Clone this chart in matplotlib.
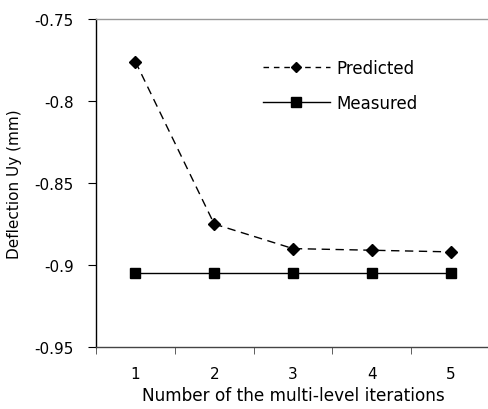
import numpy as np
import matplotlib
matplotlib.use("Agg")
import matplotlib.pyplot as plt
from matplotlib.lines import Line2D

iterations = [1, 2, 3, 4, 5]
predicted = [-0.776, -0.875, -0.890, -0.891, -0.892]
measured = [-0.905, -0.905, -0.905, -0.905, -0.905]
yticks = [-0.95, -0.9, -0.85, -0.8, -0.75]
ytick_labels = ["-0.95", "-0.9", "-0.85", "-0.8", "-0.75"]

fig = plt.figure(figsize=(4.88, 4.10), dpi=100)
ax = fig.add_axes([96/488, 1-348/410, 394/488, 328/410])

ax.plot(iterations, predicted, linestyle=(0, (6, 4)), lw=1.0, marker='D',
        color='black', markersize=6)
ax.plot(iterations, measured, linestyle='-', lw=1.0, marker='s', color='black', markersize=7)

ax.set_xlim(0.5, 5.5)
ax.set_ylim(-0.95, -0.75)
ax.set_yticks(yticks)
ax.set_yticklabels(ytick_labels)
ax.set_xticks(iterations)
ax.set_xticklabels([str(i) for i in iterations])
ax.set_xticks([0.5, 1.5, 2.5, 3.5, 4.5, 5.5], minor=True)
ax.tick_params(axis='x', which='major', length=0, pad=14, labelsize=11)
ax.tick_params(axis='x', which='minor', length=5, direction='out', color='#444444')
ax.tick_params(axis='y', length=6, direction='out', pad=10, labelsize=11)

ax.spines['left'].set_color('black')
ax.spines['bottom'].set_color('#444444')
ax.spines['top'].set_color('#999999')
ax.spines['right'].set_visible(False)
for s in ax.spines.values():
    s.set_linewidth(1.0)

ax.set_xlabel("Number of the multi-level iterations", fontsize=12.2, labelpad=3)
ax.set_ylabel("Deflection Uy (mm)", fontsize=11, labelpad=9)

h1 = Line2D([], [], color='black', lw=1.0, linestyle=(0, (4, 3.5)), marker='D', markersize=5.5)
h2 = Line2D([], [], color='black', lw=1.0, linestyle='-', marker='s', markersize=6.5)
fig.legend([h1, h2], ["Predicted", "Measured"], loc='upper left',
           bbox_to_anchor=(248/488, 1-45/410), frameon=False, fontsize=12,
           handlelength=4.0, handletextpad=0.4, labelspacing=1.0)

fig.savefig("out.png", dpi=100)
